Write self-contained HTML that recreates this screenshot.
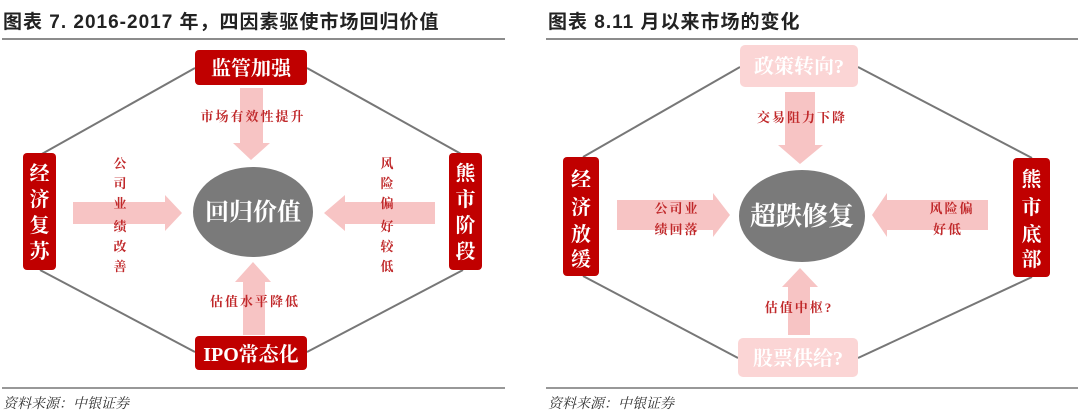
<!DOCTYPE html>
<html><head><meta charset="utf-8"><style>
body{margin:0;background:#fff;}
svg{display:block;}
text{font-family:"Liberation Serif","Noto Serif CJK SC",serif;}
.t{font-family:"Liberation Sans","Noto Sans CJK SC",sans-serif;font-weight:bold;font-size:19px;fill:#222;letter-spacing:1px;}
.w{fill:#fff;font-weight:bold;font-size:20px;}
.r{fill:#c0282a;font-size:13px;font-weight:bold;}
.ls{letter-spacing:2px;}
.s{font-style:italic;font-size:14px;fill:#333;}
</style></head><body>
<svg width="1080" height="415" viewBox="0 0 1080 415">
<!-- LEFT -->
<text class="t" x="3" y="28">图表 7. 2016-2017 年，四因素驱使市场回归价值</text>
<line x1="2" y1="39" x2="505" y2="39" stroke="#666" stroke-width="1.5"/>
<g stroke="#777" stroke-width="2" fill="none">
<polyline points="195,68 40,155"/><polyline points="307,68 463,155"/>
<polyline points="40,270 195,352"/><polyline points="463,270 307,352"/>
</g>
<g fill="#f7c4c4">
<polygon points="240,88 263,88 263,143 270,143 251,160 233,143 240,143"/>
<polygon points="73,202 165,202 165,195 182,213 165,231 165,224 73,224"/>
<polygon points="435,202 345,202 345,195 324,213 345,231 345,224 435,224"/>
<polygon points="243,335 265,335 265,282 271,282 253,262 235,282 243,282"/>
</g>
<ellipse cx="253" cy="212" rx="60" ry="45" fill="#7a7a7a"/>
<text x="253" y="220" text-anchor="middle" fill="#fff" font-size="24" font-weight="bold">回归价值</text>
<rect x="195" y="50" width="112" height="35" rx="4" fill="#c00000"/>
<text class="w" x="251" y="75" text-anchor="middle">监管加强</text>
<rect x="195" y="336" width="112" height="34" rx="4" fill="#c00000"/>
<text class="w" x="251" y="361" text-anchor="middle">IPO常态化</text>
<rect x="23" y="153" width="33" height="117" rx="4" fill="#c00000"/>
<text class="w" x="39.5" y="180" text-anchor="middle">经</text><text class="w" x="39.5" y="206" text-anchor="middle">济</text><text class="w" x="39.5" y="232" text-anchor="middle">复</text><text class="w" x="39.5" y="258" text-anchor="middle">苏</text>
<rect x="449" y="153" width="33" height="117" rx="4" fill="#c00000"/>
<text class="w" x="465.5" y="180" text-anchor="middle">熊</text><text class="w" x="465.5" y="206" text-anchor="middle">市</text><text class="w" x="465.5" y="232" text-anchor="middle">阶</text><text class="w" x="465.5" y="258" text-anchor="middle">段</text>
<text class="r ls" x="253" y="121" text-anchor="middle">市场有效性提升</text>
<text class="r ls" x="255" y="306" text-anchor="middle">估值水平降低</text>
<g class="r" text-anchor="middle"><text x="120" y="168">公</text><text x="120" y="188">司</text><text x="120" y="208">业</text><text x="120" y="231">绩</text><text x="120" y="251">改</text><text x="120" y="271">善</text>
<text x="387" y="168">风</text><text x="387" y="188">险</text><text x="387" y="208">偏</text><text x="387" y="231">好</text><text x="387" y="251">较</text><text x="387" y="271">低</text></g>
<line x1="2" y1="388" x2="505" y2="388" stroke="#777" stroke-width="1.5"/>
<text class="s" x="3" y="408">资料来源：中银证券</text>

<!-- RIGHT -->
<text class="t" x="548" y="28">图表 8.11 月以来市场的变化</text>
<line x1="546" y1="39" x2="1078" y2="39" stroke="#666" stroke-width="1.5"/>
<g stroke="#777" stroke-width="2" fill="none">
<polyline points="740,67 583,157"/><polyline points="858,67 1032,158"/>
<polyline points="583,276 738,358"/><polyline points="1032,277 858,358"/>
</g>
<g fill="#f7c4c4">
<polygon points="785,92 815,92 815,145 823,145 800,164 778,145 785,145"/>
<polygon points="617,200 713,200 713,193 730,215 713,237 713,230 617,230"/>
<polygon points="988,200 887,200 887,193 872,215 887,237 887,230 988,230"/>
<polygon points="788,335 810,335 810,287 818,287 800,268 782,287 788,287"/>
</g>
<ellipse cx="802" cy="216" rx="63" ry="46" fill="#7a7a7a"/>
<text x="802" y="225" text-anchor="middle" fill="#fff" font-size="26" font-weight="bold">超跌修复</text>
<rect x="740" y="45" width="118" height="42" rx="5" fill="#fbd5d5"/>
<text class="w" x="799" y="73" text-anchor="middle">政策转向?</text>
<rect x="738" y="338" width="120" height="39" rx="5" fill="#fbd5d5"/>
<text class="w" x="798" y="365" text-anchor="middle">股票供给?</text>
<rect x="563" y="157" width="36" height="119" rx="4" fill="#c00000"/>
<text class="w" x="581" y="186" text-anchor="middle">经</text><text class="w" x="581" y="214" text-anchor="middle">济</text><text class="w" x="581" y="241" text-anchor="middle">放</text><text class="w" x="581" y="266" text-anchor="middle">缓</text>
<rect x="1013" y="158" width="37" height="119" rx="4" fill="#c00000"/>
<text class="w" x="1031.5" y="186" text-anchor="middle">熊</text><text class="w" x="1031.5" y="214" text-anchor="middle">市</text><text class="w" x="1031.5" y="241" text-anchor="middle">底</text><text class="w" x="1031.5" y="266" text-anchor="middle">部</text>
<text class="r ls" x="802" y="122" text-anchor="middle">交易阻力下降</text>
<text class="r ls" x="799" y="312" text-anchor="middle">估值中枢?</text>
<text class="r ls" x="677" y="213" text-anchor="middle">公司业</text>
<text class="r ls" x="677" y="234" text-anchor="middle">绩回落</text>
<text class="r ls" x="952" y="213" text-anchor="middle">风险偏</text>
<text class="r ls" x="948" y="234" text-anchor="middle">好低</text>
<line x1="546" y1="388" x2="1078" y2="388" stroke="#777" stroke-width="1.5"/>
<text class="s" x="548" y="408">资料来源：中银证券</text>
</svg>
</body></html>
